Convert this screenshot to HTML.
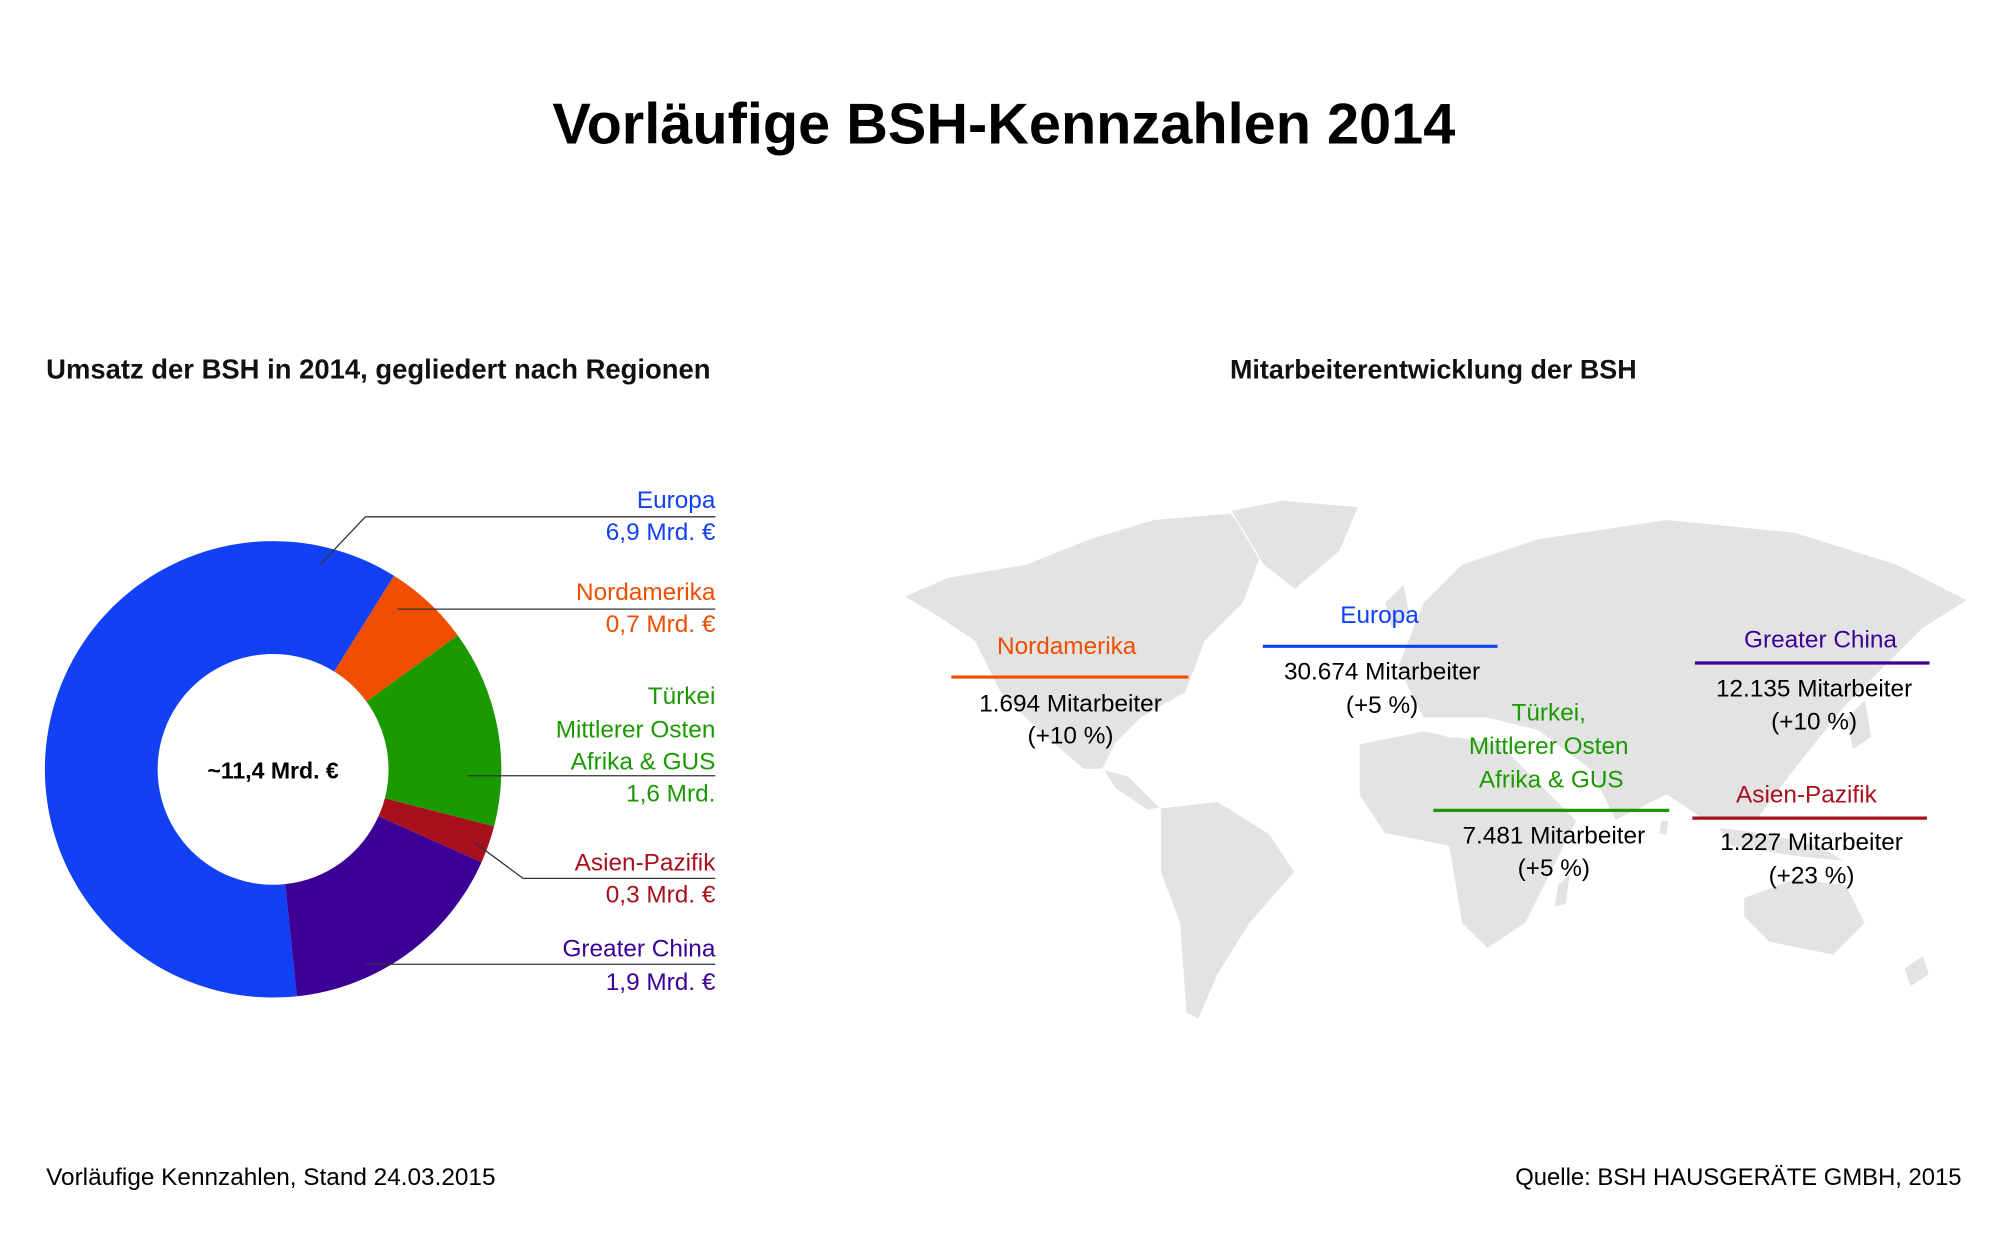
<!DOCTYPE html>
<html><head><meta charset="utf-8"><style>
html,body{margin:0;padding:0;background:#fff;}
svg{display:block;font-family:"Liberation Sans",sans-serif;}
</style></head><body>
<svg width="2000" height="1249" viewBox="0 0 1560 974" xmlns="http://www.w3.org/2000/svg">
<rect width="1560" height="974" fill="#fff"/>
<text x="783" y="112" font-size="45" font-weight="bold" text-anchor="middle" fill="#000">Vorläufige BSH-Kennzahlen 2014</text>
<text x="36" y="295" font-size="21.4" font-weight="bold" fill="#111">Umsatz der BSH in 2014, gegliedert nach Regionen</text>
<text x="1118" y="295" font-size="21" font-weight="bold" fill="#111" text-anchor="middle">Mitarbeiterentwicklung der BSH</text>

<g transform="translate(213,600)">
<path d="M18.6,177.0 A178,178 0 1,1 94.3,-151.0 L47.7,-76.3 A90,90 0 1,0 9.4,89.5 Z" fill="#1240f5"/>
<path d="M94.3,-151.0 A178,178 0 0,1 144.0,-104.6 L72.8,-52.9 A90,90 0 0,0 47.7,-76.3 Z" fill="#f04e00"/>
<path d="M144.0,-104.6 A178,178 0 0,1 172.4,44.5 L87.2,22.5 A90,90 0 0,0 72.8,-52.9 Z" fill="#1a9a00"/>
<path d="M172.4,44.5 A178,178 0 0,1 162.6,72.4 L82.2,36.6 A90,90 0 0,0 87.2,22.5 Z" fill="#a8101e"/>
<path d="M162.6,72.4 A178,178 0 0,1 18.6,177.0 L9.4,89.5 A90,90 0 0,0 82.2,36.6 Z" fill="#3c0096"/>
</g>
<text x="213" y="607" font-size="18" font-weight="bold" text-anchor="middle">~11,4 Mrd. €</text>

<g stroke="#333" stroke-width="1" fill="none">
<polyline points="250,440 285,403 558,403"/>
<polyline points="310,475 558,475"/>
<polyline points="365,605 558,605"/>
<polyline points="370,657 408,685 558,685"/>
<polyline points="285,752 558,752"/>
</g>
<g font-size="19" text-anchor="end">
<text x="558" y="396" fill="#1240f5">Europa</text>
<text x="558" y="421" fill="#1240f5">6,9 Mrd. €</text>
<text x="558" y="468" fill="#f04e00">Nordamerika</text>
<text x="558" y="493" fill="#f04e00">0,7 Mrd. €</text>
<text x="558" y="549" fill="#1a9a00">Türkei</text>
<text x="558" y="575" fill="#1a9a00">Mittlerer Osten</text>
<text x="558" y="600" fill="#1a9a00">Afrika &amp; GUS</text>
<text x="558" y="625" fill="#1a9a00">1,6 Mrd.</text>
<text x="558" y="679" fill="#a8101e">Asien-Pazifik</text>
<text x="558" y="704" fill="#a8101e">0,3 Mrd. €</text>
<text x="558" y="746" fill="#3c0096">Greater China</text>
<text x="558" y="772" fill="#3c0096">1,9 Mrd. €</text>
</g>

<g fill="#e3e3e3" stroke="#fff" stroke-width="1">
<polygon points="705,465 740,450 800,440 850,420 900,405 960,400 985,430 970,470 940,500 925,540 890,560 870,580 860,600 845,600 810,570 780,540 760,500 730,480"/>
<polygon points="960,398 1000,390 1060,395 1045,430 1010,460 985,440"/>
<polygon points="860,600 880,605 905,630 895,632 870,615"/>
<polygon points="905,630 950,625 990,650 1010,680 975,720 950,760 935,795 925,790 920,720 905,680"/>
<polygon points="1090,520 1110,470 1140,440 1200,420 1300,405 1400,415 1480,440 1535,468 1500,490 1470,520 1440,550 1400,600 1370,640 1330,640 1300,620 1260,640 1240,600 1200,570 1160,560 1110,560"/>
<polygon points="1060,580 1110,570 1170,580 1200,610 1230,640 1210,680 1190,720 1160,740 1140,720 1130,660 1080,650 1060,620"/>
<polygon points="1080,470 1095,455 1100,480 1085,490"/>
<polygon points="1340,645 1380,650 1420,660 1440,672 1400,668 1350,660"/>
<polygon points="1360,700 1400,685 1440,690 1455,720 1430,745 1380,735 1360,715"/>
<polygon points="1485,755 1500,745 1505,760 1490,770"/>
<polygon points="1440,560 1455,545 1460,575 1445,585"/>
<polygon points="1295,640 1302,640 1300,652 1294,650"/>
<polygon points="1215,690 1225,680 1222,705 1212,708"/>
</g>
<polygon points="1100,565 1150,562 1175,575 1130,575" fill="#fff"/>

<g stroke-width="2.5">
<line x1="742" y1="528" x2="927" y2="528" stroke="#f04e00"/>
<line x1="985" y1="504" x2="1168" y2="504" stroke="#1240f5"/>
<line x1="1322" y1="517" x2="1505" y2="517" stroke="#3c0096"/>
<line x1="1118" y1="632" x2="1302" y2="632" stroke="#1a9a00"/>
<line x1="1320" y1="638" x2="1503" y2="638" stroke="#a8101e"/>
</g>
<g font-size="19" text-anchor="middle">
<text x="832" y="510" fill="#f04e00">Nordamerika</text>
<text x="835" y="555">1.694 Mitarbeiter</text>
<text x="835" y="580">(+10 %)</text>
<text x="1076" y="486" fill="#1240f5">Europa</text>
<text x="1078" y="530">30.674 Mitarbeiter</text>
<text x="1078" y="556">(+5 %)</text>
<text x="1420" y="505" fill="#3c0096">Greater China</text>
<text x="1415" y="543">12.135 Mitarbeiter</text>
<text x="1415" y="569">(+10 %)</text>
<text x="1208" y="562" fill="#1a9a00">Türkei,</text>
<text x="1208" y="588" fill="#1a9a00">Mittlerer Osten</text>
<text x="1210" y="614" fill="#1a9a00">Afrika &amp; GUS</text>
<text x="1212" y="658">7.481 Mitarbeiter</text>
<text x="1212" y="683">(+5 %)</text>
<text x="1409" y="626" fill="#a8101e">Asien-Pazifik</text>
<text x="1413" y="663">1.227 Mitarbeiter</text>
<text x="1413" y="689">(+23 %)</text>
</g>

<text x="36" y="924" font-size="19">Vorläufige Kennzahlen, Stand 24.03.2015</text>
<text x="1530" y="924" font-size="18.6" text-anchor="end">Quelle: BSH HAUSGERÄTE GMBH, 2015</text>
</svg>
</body></html>
